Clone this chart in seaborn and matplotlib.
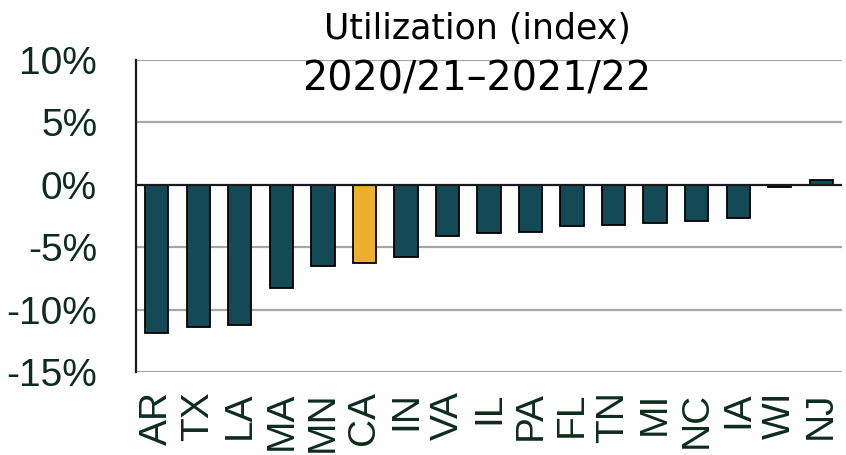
import matplotlib
matplotlib.use("Agg")
import matplotlib.pyplot as plt
import seaborn as sns
import pandas as pd
from matplotlib.ticker import FuncFormatter

states = ["AR", "TX", "LA", "MA", "MN", "CA", "IN", "VA", "IL", "PA", "FL", "TN", "MI", "NC", "IA", "WI", "NJ"]
values = [-11.9, -11.4, -11.2, -8.3, -6.5, -6.3, -5.8, -4.1, -3.9, -3.8, -3.3, -3.2, -3.1, -2.9, -2.7, -0.15, 0.35]
highlight = "CA"
title_line1 = "Utilization (index)"
title_line2 = "2020/21\u20132021/22"
yticks = [-15, -10, -5, 0, 5, 10]

TEAL = "#134a56"
GOLD = "#ebb02d"
TXT = "#0d2b1e"

df = pd.DataFrame({"state": states, "value": values,
                   "grp": ["hl" if s == highlight else "base" for s in states]})

sns.set_theme(style="white")
plt.rcParams["font.family"] = ["Liberation Sans", "DejaVu Sans"]

fig = plt.figure(figsize=(8.46, 4.55), dpi=100)
ax = fig.add_axes([136/846, 1-372/455, (842-136)/846, (372-60)/455])

sns.barplot(data=df, x="state", y="value", hue="grp", palette={"base": TEAL, "hl": GOLD},
            dodge=False, width=0.56, saturation=1, edgecolor="black", linewidth=1.3,
            legend=False, ax=ax, zorder=3)

ax.set_xlim(-0.5, len(states) - 0.5)
ax.set_ylim(-15, 10)
ax.set_yticks(yticks)
ax.yaxis.set_major_formatter(FuncFormatter(lambda v, p: f"{int(v)}%"))
for y in yticks:
    if y != 0:
        ax.axhline(y, color="#a6a6a6", lw=1.6, zorder=1)
ax.axhline(0, color="#1a1a1a", lw=1.6, zorder=4)

for s in ["top", "right", "bottom"]:
    ax.spines[s].set_visible(False)
ax.spines["left"].set_color("#1a1a1a")
ax.spines["left"].set_linewidth(1.6)

ax.set_xlabel("")
ax.set_ylabel("")
ax.tick_params(axis="y", length=0, pad=28, labelsize=28, labelcolor=TXT)
ax.tick_params(axis="x", length=0, pad=14, labelsize=28, labelcolor=TXT, rotation=90)

tfam = ["DejaVu Sans"]
fig.text(477/846, 1-39/455, title_line1, ha="center", va="baseline", fontsize=25, family=tfam, color="black")
fig.text(477/846, 1-91/455, title_line2, ha="center", va="baseline", fontsize=28.5, family=tfam, color="black")

fig.savefig("out.png", dpi=100)
